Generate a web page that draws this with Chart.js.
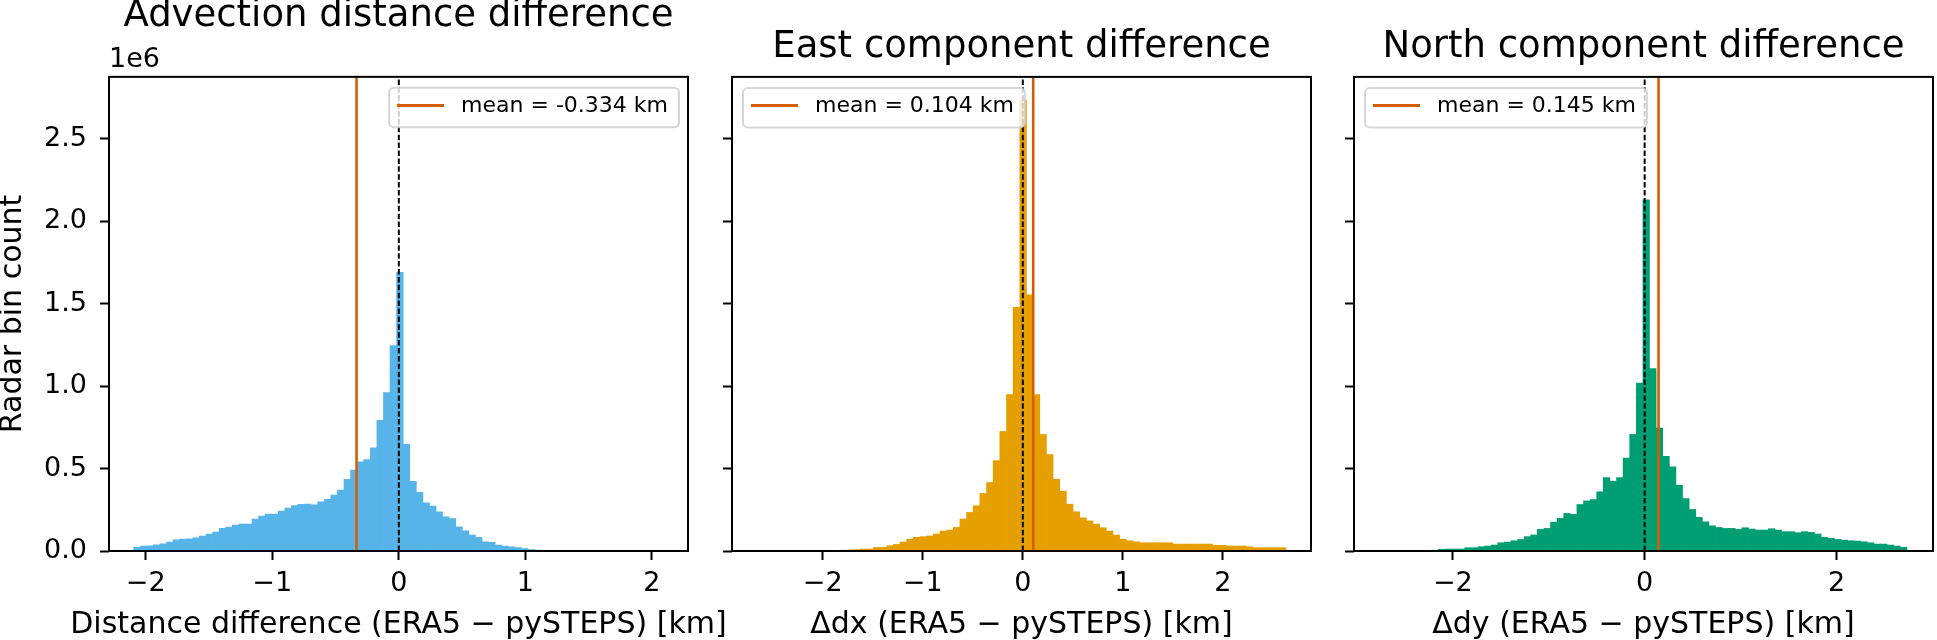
<!DOCTYPE html>
<html>
<head>
<meta charset="utf-8">
<script src="https://cdn.jsdelivr.net/npm/chart.js@4"></script>
<style>
  html, body { margin: 0; padding: 0; background: #fff; overflow: hidden; }
  #fig { position: relative; width: 1937px; height: 640px; }
  .panel { position: absolute; top: 0; height: 640px; }
</style>
</head>
<body>
<div id="fig">
  <div class="panel" style="left:700px;width:620px"><canvas id="c2"></canvas></div>
  <div class="panel" style="left:1320px;width:617px"><canvas id="c3"></canvas></div>
  <div class="panel" style="left:-2px;width:770px"><canvas id="c1"></canvas></div>
</div>
<script>
Chart.defaults.font.family = "'DejaVu Sans', sans-serif";
Chart.defaults.color = '#000';

// bin counts in millions, 80 equal bins per histogram
const distCounts = [
  0.022, 0.030, 0.032, 0.038, 0.044, 0.054, 0.068, 0.072, 0.074, 0.080,
  0.091, 0.103, 0.115, 0.137, 0.145, 0.157, 0.163, 0.163, 0.194, 0.212,
  0.224, 0.224, 0.242, 0.260, 0.276, 0.283, 0.285, 0.280, 0.298, 0.313,
  0.339, 0.369, 0.435, 0.490, 0.540, 0.555, 0.625, 0.792, 0.961, 1.245,
  1.689, 0.647, 0.423, 0.355, 0.292, 0.272, 0.238, 0.207, 0.197, 0.147,
  0.123, 0.097, 0.083, 0.056, 0.052, 0.036, 0.030, 0.026, 0.020, 0.014,
  0.008, 0.005, 0.003, 0.002, 0.002, 0.0015, 0.0012, 0.001, 0.001, 0.0008,
  0.0006, 0.0005, 0.0004, 0.0003, 0.0003, 0.0002, 0.0002, 0.0001, 0.0001, 0.0001
];
const dxCounts = [
  0.0003, 0.0004, 0.0005, 0.0006, 0.0008, 0.001, 0.0012, 0.0015, 0.002, 0.0025,
  0.003, 0.0035, 0.004, 0.005, 0.006, 0.008, 0.012, 0.012, 0.022, 0.022,
  0.032, 0.040, 0.054, 0.072, 0.083, 0.087, 0.091, 0.103, 0.121, 0.127,
  0.143, 0.194, 0.234, 0.274, 0.349, 0.415, 0.548, 0.725, 0.949, 1.477,
  2.735, 1.554, 0.949, 0.707, 0.585, 0.435, 0.363, 0.284, 0.238, 0.201,
  0.183, 0.163, 0.141, 0.121, 0.097, 0.072, 0.062, 0.056, 0.050, 0.050,
  0.050, 0.050, 0.050, 0.042, 0.042, 0.042, 0.042, 0.042, 0.042, 0.034,
  0.034, 0.030, 0.030, 0.030, 0.026, 0.020, 0.020, 0.020, 0.020, 0.020
];
const dyCounts = [
  0.0005, 0.0007, 0.001, 0.0013, 0.0017, 0.002, 0.003, 0.004, 0.005, 0.010,
  0.012, 0.012, 0.012, 0.020, 0.020, 0.026, 0.030, 0.036, 0.050, 0.054,
  0.062, 0.070, 0.087, 0.097, 0.131, 0.137, 0.175, 0.198, 0.228, 0.222,
  0.282, 0.304, 0.312, 0.359, 0.445, 0.423, 0.445, 0.564, 0.707, 1.018,
  2.130, 1.106, 0.746, 0.574, 0.510, 0.399, 0.318, 0.252, 0.204, 0.177,
  0.153, 0.143, 0.137, 0.137, 0.131, 0.141, 0.133, 0.127, 0.127, 0.135,
  0.127, 0.117, 0.117, 0.111, 0.117, 0.113, 0.103, 0.083, 0.077, 0.070,
  0.066, 0.062, 0.060, 0.056, 0.050, 0.042, 0.042, 0.036, 0.030, 0.022
];

// outer bin edges [first, last] in km
const distRange = [-2.095, 2.06];
const dxRange = [-2.69, 2.63];
const dyRange = [-2.77, 2.734];

// x axis limits in km
const distLimits = [-2.29, 2.285];
const dxLimits = [-2.906, 2.88];
const dyLimits = [-3.03, 3.006];

const means = [-0.334, 0.104, 0.145];
const titles = ['Advection distance difference', 'East component difference', 'North component difference'];
const xLabels = [
  'Distance difference (ERA5 \u2212 pySTEPS) [km]',
  '\u0394dx (ERA5 \u2212 pySTEPS) [km]',
  '\u0394dy (ERA5 \u2212 pySTEPS) [km]'
];
const yLabel = 'Radar bin count';
const yTop = 2.875; // millions

const meanColour = '#D55E00';

function binCentres(range, n) {
  const w = (range[1] - range[0]) / n;
  const out = [];
  for (let i = 0; i < n; i++) out.push(range[0] + (i + 0.5) * w);
  return out;
}

// box round the plot area, x label (Chart.js would squeeze a long one), legend
const axesFrame = {
  id: 'axesFrame',
  afterDatasetsDraw(chart) {
    const {ctx, chartArea: a} = chart;
    ctx.save();
    ctx.strokeStyle = '#000';
    ctx.lineWidth = 2;
    ctx.strokeRect(a.left, a.top, a.right - a.left, a.bottom - a.top);
    ctx.restore();
  },
  afterDraw(chart, args, opts) {
    const {ctx, chartArea: a} = chart;
    ctx.save();
    ctx.font = "30px 'DejaVu Sans', sans-serif";
    ctx.fillStyle = '#000';
    ctx.textAlign = 'center';
    ctx.textBaseline = 'alphabetic';
    ctx.fillText(opts.xLabel, (a.left + a.right) / 2, 633.3);

    const ds = chart.data.datasets[2];
    ctx.font = "22px 'DejaVu Sans', sans-serif";
    const tw = ctx.measureText(ds.label).width;
    const w = 72 + tw + 11, h = 39.5;
    const x0 = opts.side === 'left' ? a.left + 11 : a.right - 9 - w;
    const y0 = a.top + 11;
    ctx.beginPath();
    ctx.roundRect(x0, y0, w, h, 5);
    ctx.fillStyle = 'rgba(255,255,255,0.8)';
    ctx.fill();
    ctx.strokeStyle = 'rgba(204,204,204,0.8)';
    ctx.lineWidth = 2;
    ctx.stroke();
    const ly = y0 + 17.6;
    ctx.beginPath();
    ctx.moveTo(x0 + 8, ly);
    ctx.lineTo(x0 + 55, ly);
    ctx.strokeStyle = ds.borderColor;
    ctx.lineWidth = 3;
    ctx.stroke();
    ctx.fillStyle = '#000';
    ctx.textAlign = 'left';
    ctx.textBaseline = 'middle';
    ctx.fillText(ds.label, x0 + 72, ly + 1);
    ctx.restore();
  }
};

function histogram(id, p) {
  const centres = binCentres(p.range, p.counts.length);
  return new Chart(document.getElementById(id), {
    type: 'bar',
    plugins: [axesFrame],
    data: {
      datasets: [
        {
          type: 'bar',
          label: 'count',
          data: centres.map((x, i) => ({x: x, y: p.counts[i]})),
          backgroundColor: p.colour,
          borderWidth: 0,
          barPercentage: 1,
          categoryPercentage: 1,
          order: 3
        },
        {
          type: 'line',
          label: 'zero',
          data: [{x: 0, y: 0}, {x: 0, y: yTop}],
          borderColor: '#000',
          borderWidth: 2,
          borderDash: [5.5, 2.4],
          pointRadius: 0,
          order: 2
        },
        {
          type: 'line',
          label: 'mean = ' + p.mean.toFixed(3) + ' km',
          data: [{x: p.mean, y: 0}, {x: p.mean, y: yTop}],
          borderColor: meanColour,
          borderWidth: 2.6,
          pointRadius: 0,
          order: 1
        }
      ]
    },
    options: {
      responsive: true,
      maintainAspectRatio: false,
      animation: false,
      events: [],
      layout: { padding: { left: 0, right: p.padRight, top: 0, bottom: 0 } },
      plugins: {
        legend: { display: false },
        tooltip: { enabled: false },
        title: {
          display: true,
          text: p.title,
          fullSize: false,
          color: '#000',
          font: { size: 37, weight: 'normal', lineHeight: 1.1 },
          padding: p.titlePad
        },
        subtitle: {
          display: p.exponent,
          text: '1e6',
          align: 'start',
          fullSize: false,
          color: '#000',
          font: { size: 27, weight: 'normal', lineHeight: 1.2 },
          padding: { top: 6.6, bottom: 1 }
        },
        axesFrame: { side: p.legendSide, xLabel: p.xLabel }
      },
      scales: {
        x: {
          type: 'linear',
          min: p.limits[0],
          max: p.limits[1],
          offset: false,
          border: { display: false },
          grid: { display: true, drawOnChartArea: false, offset: false, tickLength: 9, tickWidth: 2, tickColor: '#000' },
          ticks: {
            stepSize: p.xStep,
            includeBounds: false,
            padding: 8,
            color: '#000',
            font: { size: 27 },
            callback: v => v < 0 ? '\u2212' + Math.abs(v) : String(v)
          },
          title: { display: false },
          afterFit: s => { s.height = 89; }
        },
        y: {
          type: 'linear',
          min: 0,
          max: yTop,
          border: { display: false },
          grid: { display: true, drawOnChartArea: false, tickLength: 9, tickWidth: 2, tickColor: '#000' },
          ticks: {
            stepSize: 0.5,
            includeBounds: false,
            padding: 13,
            color: '#000',
            font: { size: 27 },
            callback: v => p.yTicks ? v.toFixed(1) : ''
          },
          title: {
            display: p.yTicks,
            text: yLabel,
            color: '#000',
            font: { size: 30, lineHeight: 1 },
            padding: { top: 0, bottom: 0 }
          },
          afterFit: s => { s.width = p.yWidth; }
        }
      }
    }
  });
}

histogram('c1', {
  counts: distCounts, range: distRange, limits: distLimits, mean: means[0],
  title: titles[0], xLabel: xLabels[0], xStep: 1, colour: '#56B4E9',
  legendSide: 'right', yTicks: true, exponent: true,
  yWidth: 111, padRight: 80, titlePad: { top: -3.85, bottom: 0 }
});
histogram('c2', {
  counts: dxCounts, range: dxRange, limits: dxLimits, mean: means[1],
  title: titles[1], xLabel: xLabels[1], xStep: 1, colour: '#E69F00',
  legendSide: 'left', yTicks: false, exponent: false,
  yWidth: 32, padRight: 9, titlePad: { top: 26.85, bottom: 9.35 }
});
histogram('c3', {
  counts: dyCounts, range: dyRange, limits: dyLimits, mean: means[2],
  title: titles[2], xLabel: xLabels[2], xStep: 2, colour: '#009E73',
  legendSide: 'left', yTicks: false, exponent: false,
  yWidth: 34, padRight: 4, titlePad: { top: 26.85, bottom: 9.35 }
});
</script>
</body>
</html>
